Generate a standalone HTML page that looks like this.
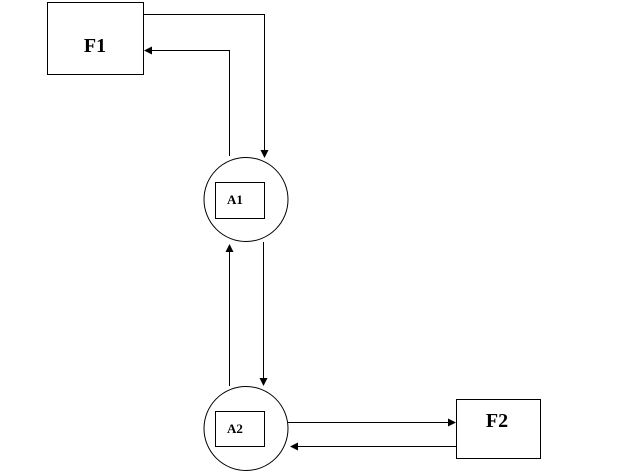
<!DOCTYPE html>
<html><head><style>body{margin:0;background:#fff}</style></head><body>
<svg width="636" height="472" xmlns="http://www.w3.org/2000/svg" style="display:block">
<defs><marker id="a" markerWidth="8" markerHeight="8" refX="7" refY="4" orient="auto" markerUnits="userSpaceOnUse"><path d="M0,0 L8,4 L0,8 z" fill="#000"/></marker></defs>
<g fill="none" stroke="#000" stroke-width="1">
<rect x="47.5" y="2.5" width="96" height="72"/>
<rect x="456.5" y="399.5" width="84" height="59"/>
<circle cx="246" cy="199.5" r="42"/>
<circle cx="246" cy="428.5" r="42"/>
<rect x="215.5" y="182.5" width="49" height="36"/>
<rect x="215.5" y="411.5" width="49" height="35"/>
<polyline points="143,14.5 264.5,14.5 264.5,157" marker-end="url(#a)"/>
<polyline points="229.5,156 229.5,50.5 145,50.5" marker-end="url(#a)"/>
<line x1="229.5" y1="386" x2="229.5" y2="245" marker-end="url(#a)"/>
<line x1="263.5" y1="242" x2="263.5" y2="385" marker-end="url(#a)"/>
<line x1="288" y1="422.5" x2="455" y2="422.5" marker-end="url(#a)"/>
<line x1="456" y1="446.5" x2="291" y2="446.5" marker-end="url(#a)"/>
</g>
<g font-family="Liberation Serif, serif" font-weight="bold" fill="#000" text-anchor="middle">
<text x="95" y="52" font-size="20">F1</text>
<text x="497" y="427" font-size="20">F2</text>
<text x="235" y="204" font-size="13">A1</text>
<text x="235" y="433" font-size="13">A2</text>
</g>
</svg>
</body></html>
